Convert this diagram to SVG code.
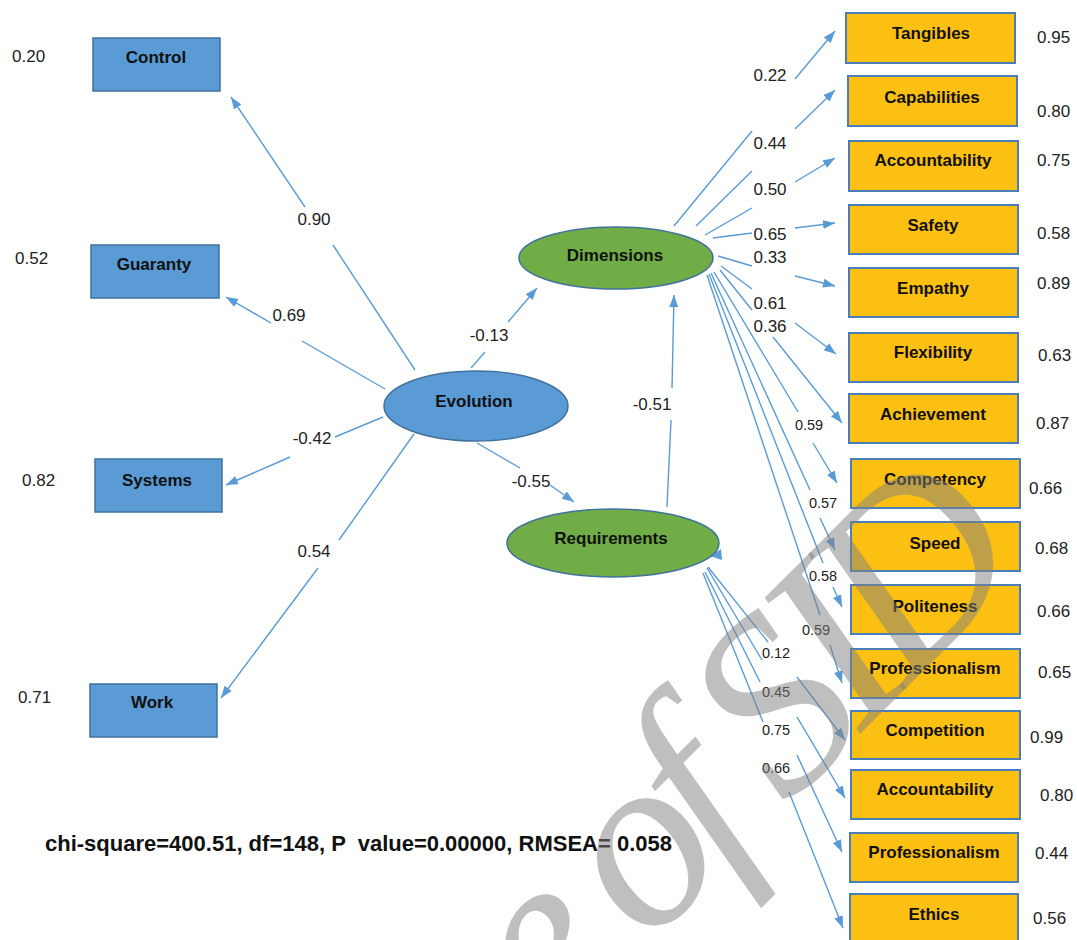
<svg xmlns="http://www.w3.org/2000/svg" width="1077" height="940" viewBox="0 0 1077 940">
<defs>
<marker id="ah" markerUnits="userSpaceOnUse" markerWidth="13" markerHeight="10" refX="12" refY="4.5" orient="auto">
<path d="M0,0 L12,4.5 L0,9 z" fill="#5B9BD5"/>
</marker>
<style>
.bg{fill:#ffffff}
.ln{stroke:#5B9BD5;stroke-width:1.4;fill:none}
.ar{stroke:#5B9BD5;stroke-width:1.4;fill:none;marker-end:url(#ah)}
.bbox{fill:#5B9BD5;stroke:#41719C;stroke-width:1.5}
.obox{fill:#FCC012;stroke:#4A7EBB;stroke-width:2}
.blat{fill:#5B9BD5;stroke:#41719C;stroke-width:1.5}
.glat{fill:#70AD47;stroke:#41719C;stroke-width:1.5}
.lbl{font-family:"Liberation Sans",Arial,sans-serif;font-weight:bold;font-size:17px;fill:#111;text-anchor:middle}
.num{font-family:"Liberation Sans",Arial,sans-serif;font-size:17px;fill:#222}
.cnum{font-family:"Liberation Sans",Arial,sans-serif;font-size:17px;fill:#222;text-anchor:middle}
.snum{font-family:"Liberation Sans",Arial,sans-serif;font-size:14.5px;fill:#222;text-anchor:middle}
.fit{font-family:"Liberation Sans",Arial,sans-serif;font-weight:bold;font-size:22px;fill:#111;white-space:pre}
.wm{font-family:"Liberation Serif","Times New Roman",serif;font-style:italic;font-size:250px;letter-spacing:-20px;fill:#808080;fill-opacity:0.5}
</style>
</defs>
<rect class="bg" x="0" y="0" width="1077" height="940"/>

<g id="connectors">
<line class="ln" x1="415" y1="370" x2="333" y2="245"/><line class="ar" x1="305" y1="207" x2="231" y2="97"/>
<line class="ln" x1="385" y1="389" x2="302" y2="341"/><line class="ar" x1="271" y1="323" x2="226" y2="297"/>
<line class="ln" x1="383" y1="417" x2="335" y2="437"/><line class="ar" x1="290" y1="457" x2="226" y2="485"/>
<line class="ln" x1="414" y1="434" x2="339" y2="540"/><line class="ar" x1="318" y1="568" x2="221" y2="698"/>
<line class="ln" x1="471" y1="368" x2="485" y2="352"/><line class="ar" x1="508" y1="322" x2="537" y2="288"/>
<line class="ln" x1="477" y1="443" x2="520" y2="468"/><line class="ar" x1="550" y1="485" x2="574" y2="502"/>
<line class="ln" x1="667" y1="507" x2="671" y2="420"/><line class="ar" x1="672" y1="388" x2="674" y2="295"/>
<line class="ln" x1="674" y1="226" x2="752" y2="131"/><line class="ar" x1="795" y1="79" x2="835" y2="31"/>
<line class="ln" x1="696" y1="226" x2="752" y2="171"/><line class="ar" x1="795" y1="129" x2="835" y2="90"/>
<line class="ln" x1="705" y1="235" x2="752" y2="208"/><line class="ar" x1="795" y1="182" x2="835" y2="158"/>
<line class="ln" x1="713" y1="238" x2="752" y2="233"/><line class="ar" x1="795" y1="228" x2="835" y2="223"/>
<line class="ln" x1="718" y1="256" x2="752" y2="266"/><line class="ar" x1="795" y1="276" x2="835" y2="286"/>
<line class="ln" x1="721" y1="266" x2="752" y2="289"/><line class="ar" x1="795" y1="323" x2="836" y2="354"/>
<line class="ln" x1="720" y1="270" x2="752" y2="310"/><line class="ar" x1="773" y1="337" x2="842" y2="423"/>
<line class="ln" x1="714" y1="272" x2="798" y2="412"/><line class="ar" x1="813" y1="443" x2="837" y2="483"/>
<line class="ln" x1="711" y1="273" x2="810" y2="490"/><line class="ar" x1="820" y1="518" x2="835" y2="550"/>
<line class="ln" x1="709" y1="274" x2="823" y2="563"/><line class="ar" x1="833" y1="587" x2="842" y2="607"/>
<line class="ln" x1="707" y1="275" x2="820" y2="615"/><line class="ar" x1="830" y1="645" x2="842" y2="683"/>
<line class="ln" x1="708" y1="567" x2="768" y2="642"/><line class="ar" x1="797" y1="677" x2="845" y2="740"/>
<line class="ln" x1="707" y1="568" x2="762" y2="660"/><line class="ar" x1="797" y1="717" x2="845" y2="798"/>
<line class="ln" x1="705" y1="572" x2="760" y2="682"/><line class="ar" x1="797" y1="755" x2="842" y2="852"/>
<line class="ln" x1="703" y1="573" x2="763" y2="722"/><line class="ar" x1="789" y1="792" x2="843" y2="928"/>
<polygon points="710,556 721,549 722,560" fill="#5B9BD5"/>
</g>

<g id="path-labels">
<text class="cnum" x="314" y="225">0.90</text>
<text class="cnum" x="289" y="321">0.69</text>
<text class="cnum" x="312" y="444">-0.42</text>
<text class="cnum" x="314" y="557">0.54</text>
<text class="cnum" x="489" y="341">-0.13</text>
<text class="cnum" x="531" y="487">-0.55</text>
<text class="cnum" x="652" y="410">-0.51</text>
<text class="cnum" x="770" y="81">0.22</text>
<text class="cnum" x="770" y="149">0.44</text>
<text class="cnum" x="770" y="195">0.50</text>
<text class="cnum" x="770" y="240">0.65</text>
<text class="cnum" x="770" y="263">0.33</text>
<text class="cnum" x="770" y="309">0.61</text>
<text class="cnum" x="770" y="332">0.36</text>
<text class="snum" x="809" y="430">0.59</text>
<text class="snum" x="823" y="508">0.57</text>
<text class="snum" x="823" y="581">0.58</text>
<text class="snum" x="816" y="635">0.59</text>
<text class="snum" x="776" y="658">0.12</text>
<text class="snum" x="776" y="697">0.45</text>
<text class="snum" x="776" y="735">0.75</text>
<text class="snum" x="776" y="773">0.66</text>
</g>

<g id="node-evolution"><ellipse class="blat" cx="476" cy="406" rx="92" ry="35"/><text class="lbl" x="474" y="407">Evolution</text></g>
<g id="node-dimensions"><ellipse class="glat" cx="616" cy="258" rx="97" ry="31"/><text class="lbl" x="615" y="261">Dimensions</text></g>
<g id="node-requirements"><ellipse class="glat" cx="613" cy="543" rx="106" ry="34"/><text class="lbl" x="611" y="544">Requirements</text></g>

<g id="node-control"><rect class="bbox" x="93" y="38" width="127" height="53"/><text class="lbl" x="156" y="63">Control</text><text class="num" x="12" y="62">0.20</text></g>
<g id="node-guaranty"><rect class="bbox" x="91" y="245" width="128" height="53"/><text class="lbl" x="154" y="270">Guaranty</text><text class="num" x="15" y="264">0.52</text></g>
<g id="node-systems"><rect class="bbox" x="95" y="459" width="127" height="53"/><text class="lbl" x="157" y="486">Systems</text><text class="num" x="22" y="486">0.82</text></g>
<g id="node-work"><rect class="bbox" x="90" y="684" width="127" height="53"/><text class="lbl" x="152" y="708">Work</text><text class="num" x="18" y="703">0.71</text></g>

<g id="node-tangibles"><rect class="obox" x="846" y="13" width="169" height="50"/><text class="lbl" x="931" y="39">Tangibles</text><text class="num" x="1037" y="43">0.95</text></g>
<g id="node-capabilities"><rect class="obox" x="848" y="76" width="169" height="50"/><text class="lbl" x="932" y="103">Capabilities</text><text class="num" x="1037" y="117">0.80</text></g>
<g id="node-accountability1"><rect class="obox" x="849" y="141" width="169" height="50"/><text class="lbl" x="933" y="166">Accountability</text><text class="num" x="1037" y="166">0.75</text></g>
<g id="node-safety"><rect class="obox" x="849" y="205" width="169" height="49"/><text class="lbl" x="933" y="231">Safety</text><text class="num" x="1037" y="239">0.58</text></g>
<g id="node-empathy"><rect class="obox" x="849" y="268" width="169" height="49"/><text class="lbl" x="933" y="294">Empathy</text><text class="num" x="1037" y="289">0.89</text></g>
<g id="node-flexibility"><rect class="obox" x="849" y="333" width="169" height="49"/><text class="lbl" x="933" y="358">Flexibility</text><text class="num" x="1038" y="361">0.63</text></g>
<g id="node-achievement"><rect class="obox" x="849" y="394" width="169" height="49"/><text class="lbl" x="933" y="420">Achievement</text><text class="num" x="1036" y="429">0.87</text></g>
<g id="node-competency"><rect class="obox" x="851" y="459" width="169" height="49"/><text class="lbl" x="935" y="485">Competency</text><text class="num" x="1029" y="494">0.66</text></g>
<g id="node-speed"><rect class="obox" x="851" y="522" width="169" height="49"/><text class="lbl" x="935" y="549">Speed</text><text class="num" x="1035" y="554">0.68</text></g>
<g id="node-politeness"><rect class="obox" x="851" y="585" width="169" height="49"/><text class="lbl" x="935" y="612">Politeness</text><text class="num" x="1037" y="617">0.66</text></g>
<g id="node-professionalism1"><rect class="obox" x="851" y="649" width="169" height="49"/><text class="lbl" x="935" y="674">Professionalism</text><text class="num" x="1038" y="678">0.65</text></g>
<g id="node-competition"><rect class="obox" x="851" y="711" width="169" height="48"/><text class="lbl" x="935" y="736">Competition</text><text class="num" x="1030" y="743">0.99</text></g>
<g id="node-accountability2"><rect class="obox" x="851" y="770" width="169" height="49"/><text class="lbl" x="935" y="795">Accountability</text><text class="num" x="1040" y="801">0.80</text></g>
<g id="node-professionalism2"><rect class="obox" x="850" y="833" width="168" height="49"/><text class="lbl" x="934" y="858">Professionalism</text><text class="num" x="1035" y="859">0.44</text></g>
<g id="node-ethics"><rect class="obox" x="850" y="894" width="168" height="50"/><text class="lbl" x="934" y="920">Ethics</text><text class="num" x="1033" y="924">0.56</text></g>

<text id="fit-stats" class="fit" x="45" y="851">chi-square=400.51, df=148, P  value=0.00000, RMSEA= 0.058</text>

<text id="watermark" class="wm" transform="translate(553,1041) rotate(-45)" x="0" y="0">e of SID</text>
</svg>
